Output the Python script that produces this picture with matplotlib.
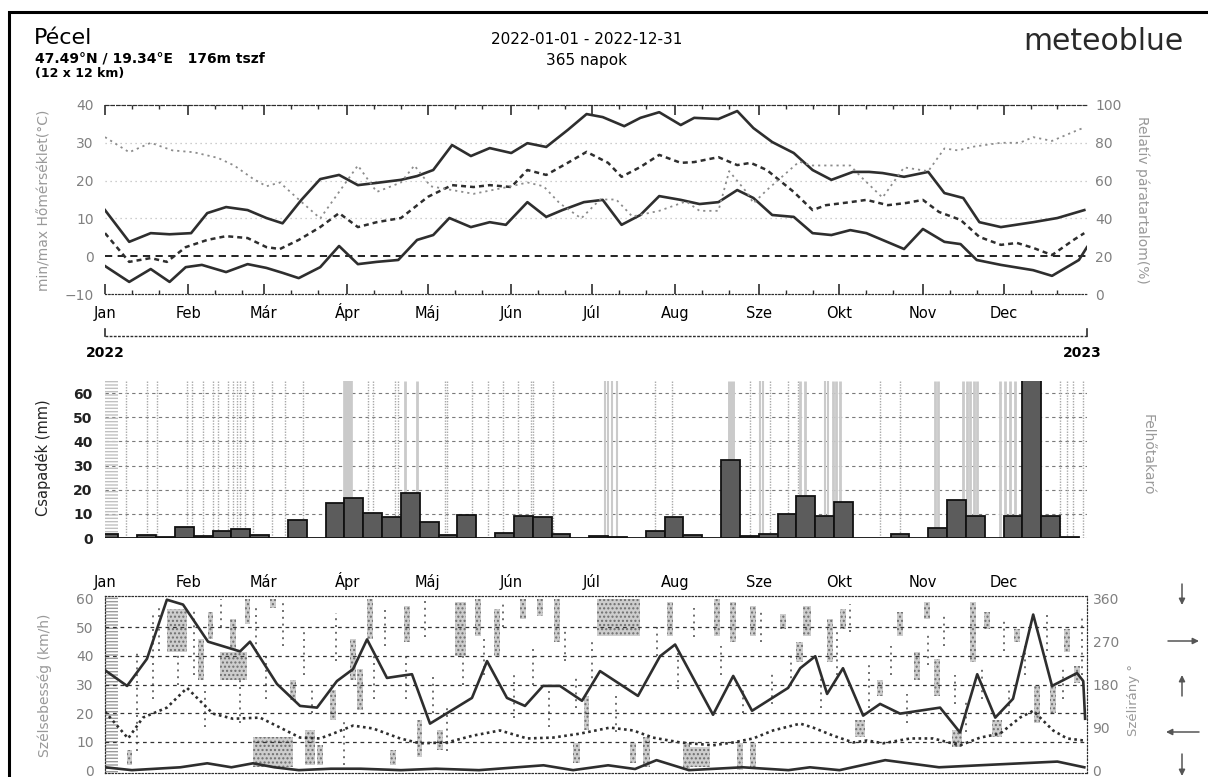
import numpy as np
import matplotlib.pyplot as plt
from matplotlib.lines import Line2D
from matplotlib.patches import Rectangle

W, H = 1208, 777

months = ['Jan', 'Feb', 'Már', 'Ápr', 'Máj', 'Jún', 'Júl', 'Aug', 'Sze', 'Okt', 'Nov', 'Dec']
month_start = [0, 31, 59, 90, 120, 151, 181, 212, 243, 273, 304, 334]

# temperature (°C) (day of year)
tmax_day = [0, 9, 17, 24, 32, 38, 45, 53, 60, 66, 73, 80, 87, 94, 101,
            110, 116, 122, 129, 136, 143, 151, 157, 164, 172, 179, 185, 193, 199, 206,
            214, 219, 228, 235, 241, 248, 256, 263, 270, 278, 284, 289, 297, 306, 312,
            319, 325, 333, 345, 354, 364]
tmax = [12.2, 3.8, 6.1, 5.8, 6.1, 11.4, 13.0, 12.2, 10.1, 8.7, 14.9, 20.4, 21.5, 18.8, 19.4,
        20.2, 21.2, 22.8, 29.4, 26.5, 28.6, 27.3, 29.9, 28.9, 33.4, 37.6, 36.8, 34.4, 36.6, 38.1,
        34.7, 36.6, 36.3, 38.4, 33.9, 30.2, 27.3, 22.8, 20.2, 22.3, 22.3, 22.0, 21.0, 22.3, 16.7,
        15.4, 9.0, 7.7, 9.0, 10.1, 12.2]

tmin_day = [0, 9, 17, 24, 30, 36, 45, 53, 60, 66, 72, 80, 87, 94, 101, 109,
            116, 122, 128, 136, 143, 149, 157, 164, 170, 178, 185, 192, 199, 206, 214,
            221, 228, 235, 241, 248, 256,
            263, 270, 277, 283, 289, 297, 304, 312, 318, 324, 333, 345, 352, 362, 365]
tmin = [-2.6, -6.8, -3.4, -6.8, -2.9, -2.3, -4.2, -2.1, -3.1, -4.4, -5.8, -2.9, 2.7, -2.1, -1.5, -1.0,
        4.3, 5.6, 10.1, 7.7, 9.0, 8.3, 14.3, 10.4, 12.2, 14.3, 14.9, 8.3, 10.9, 15.9, 14.9,
        13.8, 14.3, 17.5, 15.4, 10.9, 10.4,
        6.1, 5.6, 6.9, 6.1, 4.3, 1.9, 7.2, 3.8, 3.2, -1.0, -2.3, -3.7, -5.2, -1.0, 2.4]

tmean_day = [0, 9, 17, 23, 30, 38, 45, 53, 60, 65, 72, 80, 87, 94, 101,
             110, 120, 129, 137, 143, 151, 157, 164, 172, 179, 187, 192, 199, 206, 214,
             219, 228, 235, 240, 246, 256,
             263, 268, 277, 283, 291, 298, 304, 310, 318, 325, 333, 339, 345, 352, 360, 364]
tmean = [6.1, -1.5, -0.5, -1.5, 2.4, 4.3, 5.3, 4.8, 2.4, 1.9, 4.3, 7.7, 11.4, 7.7, 9.0,
         10.1, 15.7, 18.8, 18.3, 18.8, 18.3, 22.8, 21.5, 24.7, 27.6, 24.7, 21.0, 23.6, 26.8, 24.7,
         24.9, 26.2, 24.1, 24.7, 22.8, 17.0,
         12.2, 13.5, 14.3, 14.9, 13.5, 14.1, 14.9, 11.7, 9.6, 5.1, 3.0, 3.5, 2.2, 0.3, 4.3, 6.1]

# relative humidity (%)
rh_day = [0, 9, 17, 25, 33, 42, 48, 55, 60, 65, 72, 80, 94, 101, 110,
          115, 121, 129, 137, 151, 157, 163, 169, 177, 184, 190, 196, 206, 216, 221,
          228, 232, 239, 241, 246, 258,
          263, 271, 277, 281, 289, 297, 306, 312, 317, 323, 333, 340, 345, 352, 362, 364]
rh = [83, 75, 80, 76, 75, 72, 68, 61, 57, 59, 50, 40, 68, 54, 59,
      68, 57, 55, 53, 57, 59, 57, 48, 40, 50, 50, 41, 44, 49, 44,
      44, 65, 53, 48, 55, 70,
      68, 68, 68, 62, 51, 67, 65, 77, 76, 78, 80, 80, 83, 81, 87, 88]

# weekly precipitation (mm), one bar per week starting 2 days before Jan 1
precip = [1.6, 0.2, 1.2, 0.5, 4.5, 1.0, 2.9, 3.6, 1.1, 0.2, 7.4, 0.0, 14.5,
          16.5, 10.3, 8.7, 18.6, 6.6, 1.2, 9.5, 0.1, 2.1, 9.3, 8.7, 1.6, 0.2,
          0.7, 0.3, 0.0, 2.9, 8.9, 1.1, 0.2, 32.2, 1.0, 1.5, 9.9, 17.4, 9.1,
          14.9, 0.0, 0.0, 1.7, 0.0, 4.1, 15.7, 9.1, 0.0, 9.1, 67.0, 9.1, 0.3]

# cloud cover streaks (day of year, line width)
cloud_day = [7.8, 15.6, 19.3, 30.5, 32.3, 36.4, 40.1, 42, 45.7, 47.6, 49, 50.2, 52, 55,
             62, 66.9, 73.6, 90.3, 97.8, 99.6, 107.8, 109, 111.5, 116, 126.4, 127.1,
             136.4, 142.4, 148, 153.5, 158.4, 159.1, 166.5, 185.9, 187, 188.5, 190.3,
             204.5, 210.8, 232.8, 239.8, 243.5, 244.6, 247.2, 253.9, 257.6, 258.4,
             260.2, 267.7, 268.8, 270.6, 271.7, 273.2, 288.1, 295.5, 308.6, 309.7,
             319, 320.4, 321.6, 323, 324.2, 332.7, 334.6, 336.4, 338.3, 355, 357.6,
             359.9, 363.6]
cloud_w = [1, 1, 1, 1, 1, 1, 1, 1, 1, 1, 1, 1, 1, 1,
           1, 1, 1, 7, 1, 1, 1, 1, 2, 2, 1, 1,
           1, 1, 1, 1, 1, 1, 1, 1.5, 1.5, 1.5, 1.5,
           1, 1, 5, 1, 1.5, 1.5, 1, 1, 1, 2,
           2, 1.5, 1.5, 2, 2, 2, 1, 1, 2, 2,
           2, 2, 2, 2, 2, 2, 2, 2, 2, 1, 1,
           1, 1]

# wind speed (km/h)
wmax_day = [0, 8.2, 15.6, 23, 29, 38.3, 50.2, 53.9, 63.9, 72.5, 78.8, 86.2, 92.2, 97.4, 104.8,
            109.7, 114.1, 120.8, 136.4, 142, 149.4, 156.1, 162.8, 169.1, 177.3, 184, 198.1,
            206.3, 211.9, 226, 233.5, 240.5, 253.9,
            258.4, 264, 268.4, 274.3, 281.8, 288.1, 295.5, 310.4, 317.8, 324.2, 330.9, 337.5,
            345, 352, 361.3, 363.6, 364.3]
wmax = [35, 29.5, 39, 59.7, 58, 45, 41.6, 45, 30.2, 22.5, 21.9, 31.2, 35.4, 45.8, 32.3,
        33, 33.6, 16.3, 25.3, 38.2, 25.3, 22.5, 29.5, 29.5, 24.3, 34.7, 26,
        39.9, 44, 19.4, 33, 20.8, 28.8,
        35.7, 39.9, 26.7, 35.7, 19.1, 23.2, 19.8, 21.9, 13.2, 33.6, 18.4, 25,
        54.5, 29.5, 34, 31.2, 18]

wmean_day = [0, 8.6, 14.1, 23, 30.5, 40.1, 47.6, 57.6, 65.1, 72.5, 79.9, 84.8, 92.2, 99.6,
             109.7, 117.1, 127.1, 136.8, 146.8, 156.9, 166.5, 176.6, 187.7, 196.3, 203.7,
             213.8, 226, 233.5, 240.9, 248.3,
             258.4, 263.2, 270.6, 278.1, 283.3, 289.2, 299.3, 307.8, 317.8, 325.3, 332.7,
             340.1, 345, 352.4, 357.6, 363.6]
wmean = [20.5, 11.1, 18.4, 21.9, 28.8, 19.8, 18, 18.4, 14.9, 11.4, 11.1, 12.8, 15.6, 14.6,
         11.1, 9.4, 9.7, 12.1, 13.9, 11.1, 11.4, 12.8, 14.9, 13.9, 11.4,
         9.7, 8.7, 9.7, 11.1, 13.9,
         16.3, 14.9, 12.1, 9.7, 10.4, 9.4, 11.1, 11.1, 8.7, 11.4, 12.8,
         18.4, 20.8, 13.9, 11.1, 10.4]

wmin_day = [0, 10, 28, 38, 47, 55, 63, 72, 84, 95, 110, 123, 139, 163, 174, 187, 197, 205,
            217, 237, 254, 262, 273, 290, 310, 325, 354, 364]
wmin = [1, 0, 1, 2.4, 1, 2.4, 1, 0, 0.5, 0.5, 0, 0.5, 0, 1.7, 0, 1.7, 0.4, 3.5,
        0, 1, 0, 1, 0, 3.5, 1, 1.7, 3, 1]

# wind direction (°): dense clusters (start day, length in days, low, high)
dir_blob_day = [8, 23, 34.6, 38.3, 46.5, 42.8, 52, 61.3, 55, 68.8, 74.3, 78.8, 83.6, 91,
                93.7, 97.4, 106, 111, 116, 123.4, 130, 137.5, 144.6, 154.3, 160.6, 167,
                174, 178, 183, 195, 200, 209, 215, 217.5, 226.4, 232.3, 235, 239.8, 239.8,
                251, 257, 259.5, 268.4, 273.2, 278.8, 287, 294.4, 300.7, 304.5, 308.2,
                315, 321.6, 326.8, 329.7, 338, 345.4, 351.3, 356.5, 360.2]
dir_blob_len = [2, 7.5, 2.2, 1.8, 2.2, 10, 2, 2.3, 15, 2.2, 3.7, 2.2, 2.3, 2.3,
                2.3, 2.2, 2, 2.4, 2, 2.3, 4, 2.3, 2.2, 2.2, 2.2, 2,
                2.6, 2, 16, 2.4, 2.6, 2, 2.5, 7.5, 2.2, 2.3, 2, 2.2, 2.2,
                2, 2.5, 3, 2.2, 2.3, 3.7, 2.2, 2.3, 2.3, 2.2, 2.2,
                3.6, 2.2, 2.2, 3.8, 2, 2.2, 2.2, 2.2, 2.3]
dir_blob_lo = [10, 248, 190, 275, 254, 190, 307, 340, 6, 148, 10, 10, 106, 190,
               127, 275, 10, 269, 28, 42, 239, 282, 239, 318, 324, 269,
               15, 85, 282, 15, 6, 282, 0, 6, 282, 269, 0, 6, 282,
               296, 227, 282, 227, 296, 70, 155, 282, 190, 318, 155,
               49, 227, 296, 70, 269, 100, 121, 248, 184]
dir_blob_hi = [42, 339, 275, 332, 318, 248, 360, 360, 70, 190, 85, 53, 169, 275,
               212, 360, 42, 345, 106, 85, 354, 360, 339, 360, 360, 360,
               57, 155, 360, 57, 70, 354, 57, 49, 360, 354, 57, 57, 345,
               328, 269, 345, 318, 339, 106, 190, 332, 248, 354, 233,
               85, 354, 332, 106, 296, 176, 176, 296, 218]

# wind direction: thin hourly streaks (day, low, high)
streak_day = [12, 18, 20, 27, 33, 37, 43, 50, 56, 60, 66, 74, 77, 86, 89, 100, 104, 112,
              119, 122, 127, 133, 141, 148, 152, 159, 165, 171, 175, 181, 190, 205, 213,
              219, 229, 237, 244, 248, 255, 266, 272, 277, 284, 292, 298, 306, 312, 316,
              320, 326, 334, 336, 342, 350, 356, 363]
streak_lo = [40, 150, 250, 180, 200, 90, 300, 100, 250, 150, 260, 200, 120, 230, 10, 150,
             260, 150, 280, 120, 40, 180, 200, 300, 110, 180, 90, 230, 130, 180, 80, 240,
             170, 280, 200, 120, 270, 140, 180, 130, 200, 290, 130, 200, 100, 220, 260,
             140, 80, 150, 250, 120, 200, 250, 150, 200]
streak_hi = [250, 330, 350, 250, 340, 180, 360, 190, 340, 240, 360, 300, 180, 330, 110, 250,
             340, 240, 360, 200, 130, 240, 280, 350, 200, 260, 170, 300, 200, 270, 160, 300,
             250, 340, 260, 180, 340, 210, 250, 200, 290, 350, 230, 260, 160, 290, 330,
             200, 150, 220, 320, 180, 260, 330, 220, 320]


def box(l, t, r, b):
    return [l / W, 1 - b / H, (r - l) / W, (b - t) / H]


def fx(x):
    return x / W


def fy(y):
    return 1 - y / H


dark = '#2e2e2e'
grey = '#808080'

fig = plt.figure(figsize=(W / 100, H / 100), dpi=100)

# outer frame
fig.add_artist(Rectangle((fx(9), -0.05), fx(1215) - fx(9), fy(12) + 0.05,
                         transform=fig.transFigure, fill=False, lw=2.2, ec='black'))

# header
fig.text(fx(34), fy(38), 'Pécel', fontsize=16, va='center', ha='left')
fig.text(fx(35), fy(58), '47.49°N / 19.34°E   176m tszf', fontsize=10, weight='semibold',
         va='center')
fig.text(fx(35), fy(73), '(12 x 12 km)', fontsize=9, weight='semibold', va='center')
fig.text(fx(587), fy(40), '2022-01-01 - 2022-12-31', fontsize=11, ha='center', va='center')
fig.text(fx(587), fy(60), '365 napok', fontsize=11, ha='center', va='center')
fig.text(fx(1184), fy(42), 'meteoblue', fontsize=21.5, ha='right', va='center', color='#2a2a2a')

minor = [m + d for m in month_start for d in (10, 20)]

# ---------- temperature / humidity ----------
ax_t = fig.add_axes(box(105, 105, 1087, 294))
ax_t.set_xlim(0, 365)
ax_t.set_ylim(-10, 40)
ax_h = ax_t.twinx()
ax_h.set_ylim(0, 100)

for y in (10, 20, 30):
    ax_t.axhline(y, color='#bdbdbd', lw=0.9, ls=(0, (1, 3)))
ax_t.axhline(0, color='#111', lw=1.3, ls=(0, (4, 3)))

ax_t.plot(tmax_day, tmax, color=dark, lw=1.9)
ax_t.plot(tmin_day, tmin, color=dark, lw=1.9)
ax_t.plot(tmean_day, tmean, color=dark, lw=1.8, ls=(0, (2, 1.6)))
ax_h.plot(rh_day, rh, color='#8c8c8c', lw=1.3, ls=(0, (1.2, 2.2)))

ax_t.set_xticks(month_start, [''] * 12)
ax_t.set_xticks(minor, minor=True)
for d, m in zip(month_start, months):
    ax_t.text(d, -0.128, m, transform=ax_t.get_xaxis_transform(), ha='center',
              va='baseline', fontsize=10.5)
ax_t.tick_params(axis='x', which='both', direction='in', top=True, bottom=True, color=dark)
ax_t.tick_params(axis='x', which='major', length=7, width=1.2)
ax_t.tick_params(axis='x', which='minor', length=3, width=1)
ax_t.set_yticks(range(-10, 41, 10))
ax_t.tick_params(axis='y', length=0, labelsize=10, labelcolor=grey, pad=8)
ax_h.set_yticks(range(0, 101, 20))
ax_h.tick_params(axis='y', length=0, labelsize=10, labelcolor=grey, pad=6)
for a in (ax_t, ax_h):
    a.spines['left'].set_visible(False)
    a.spines['right'].set_visible(False)
    a.spines['top'].set_linestyle((0, (3, 2)))
    a.spines['bottom'].set_linestyle((0, (1, 2)))
    a.spines['top'].set_color(dark)
    a.spines['bottom'].set_color(dark)

fig.text(fx(45), fy(200), 'min/max Hőmérséklet(°C)', rotation=90, ha='center', va='center',
         fontsize=10, color='#999')
fig.text(fx(1142), fy(200), 'Relatív páratartalom(%)', rotation=270, ha='center', va='center',
         fontsize=10, color='#999')

# year bracket
fig.add_artist(Line2D([fx(105), fx(1087)], [fy(336), fy(336)], color=dark, lw=1,
                      ls=(0, (2, 1))))
fig.add_artist(Line2D([fx(105), fx(105)], [fy(336), fy(329)], color=dark, lw=1.2))
fig.add_artist(Line2D([fx(1087), fx(1087)], [fy(336), fy(329)], color=dark, lw=1.2))
fig.text(fx(86), fy(353), '2022', fontsize=10, weight='bold', va='center')
fig.text(fx(1102), fy(353), '2023', fontsize=10, weight='bold', va='center', ha='right')

# ---------- precipitation ----------
ax_p = fig.add_axes(box(105, 381, 1087, 538))
ax_p.set_xlim(0, 365)
ax_p.set_ylim(0, 65)
ax_p.axvspan(-2, 4.8, fill=False, hatch='-----', ec='#c0c0c0', lw=0)
cd = np.array(cloud_day)
cw = np.array(cloud_w)
thin = cw <= 1
ax_p.vlines(cd[thin], 0, 65, colors='#a8a8a8', linestyles=(0, (1, 1)), lw=1, zorder=1)
ax_p.vlines(cd[~thin], 0, 65, colors='#cacaca', linestyles='solid', lw=cw[~thin], zorder=1)
ax_p.set_yticks(range(0, 61, 10))
ax_p.grid(axis='y', color='#7a7a7a', lw=0.8, ls=(0, (3, 3)))
ax_p.set_axisbelow(True)
week_start = np.arange(len(precip)) * 7 - 2
ax_p.bar(week_start, precip, width=7, align='edge', color='#5c5c5c', edgecolor='#111',
         lw=1.3, zorder=3)
ax_p.set_xticks([])
ax_p.tick_params(axis='y', length=0, labelsize=10, labelcolor='#222', pad=9)
for lab in ax_p.get_yticklabels():
    lab.set_fontweight('bold')
for s in ax_p.spines.values():
    s.set_visible(False)
fig.text(fx(43), fy(458), 'Csapadék (mm)', rotation=90, ha='center', va='center',
         fontsize=10.5, color='#222')
fig.text(fx(1148), fy(455), 'Felhőtakaró', rotation=270, ha='center', va='center',
         fontsize=10, color='#999')

# ---------- wind ----------
ax_w = fig.add_axes(box(105, 596, 1087, 773))
ax_d = ax_w.twinx()
ax_w.set_zorder(ax_d.get_zorder() + 1)
ax_w.patch.set_visible(False)
ax_w.set_xlim(0, 365)
ax_w.set_ylim(-1, 61)
ax_d.set_ylim(-6, 366)

ax_d.axvspan(-2, 4.8, fill=False, hatch='-----', ec='#9a9a9a', lw=0)
ax_d.bar(dir_blob_day, np.subtract(dir_blob_hi, dir_blob_lo), width=dir_blob_len,
         bottom=dir_blob_lo, align='edge', color='#cdcdcd', hatch='....',
         edgecolor='#6e6e6e', lw=0)
ax_d.vlines(streak_day, streak_lo, streak_hi, colors='#6e6e6e', linestyles=(0, (1, 2.5)),
            lw=1.4)

for y in range(10, 60, 10):
    ax_w.axhline(y, color='#333', lw=0.9, ls=(0, (3, 3)))
ax_w.plot(wmax_day, wmax, color=dark, lw=1.9)
ax_w.plot(wmean_day, wmean, color=dark, lw=1.9, ls=(0, (1, 1.3)))
ax_w.plot(wmin_day, wmin, color=dark, lw=1.9)

ax_w.xaxis.tick_top()
ax_w.set_xticks(month_start, months, fontsize=10.5)
ax_w.tick_params(axis='x', length=0, pad=4)
ax_w.set_yticks(range(0, 61, 10))
ax_w.tick_params(axis='y', length=0, labelsize=10, labelcolor=grey, pad=8)
ax_d.set_yticks([0, 90, 180, 270, 360])
ax_d.tick_params(axis='y', length=0, labelsize=10, labelcolor=grey, pad=4)
for a in (ax_w, ax_d):
    for s in a.spines.values():
        s.set_linestyle((0, (1, 2)))
        s.set_color(dark)
fig.text(fx(45), fy(685), 'Szélsebesség (km/h)', rotation=90, ha='center', va='center',
         fontsize=10, color='#999')
fig.text(fx(1134), fy(700), 'Szélirány °', rotation=90, ha='center', va='center',
         fontsize=9.5, color='#999')

# direction arrows
arrows = [((1168, 641), (1199, 641)), ((1182, 696), (1182, 675)),
          ((1199, 732), (1166, 732)), ((1182, 584), (1182, 605)),
          ((1182, 754), (1182, 776))]
for start, end in arrows:
    ax_w.annotate('', xy=(fx(end[0]), fy(end[1])), xytext=(fx(start[0]), fy(start[1])),
                  xycoords='figure fraction', textcoords='figure fraction',
                  arrowprops=dict(arrowstyle='-|>', color='#555', lw=1.1,
                                  mutation_scale=9, shrinkA=0, shrinkB=0),
                  annotation_clip=False)

fig.savefig('out.png', dpi=100)
